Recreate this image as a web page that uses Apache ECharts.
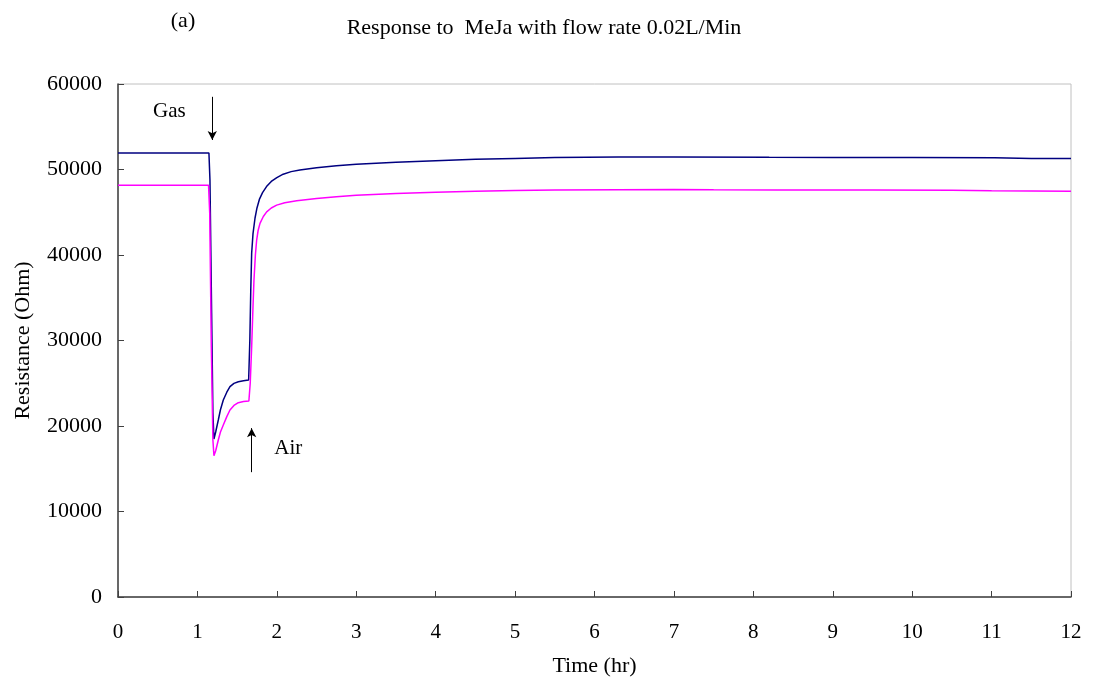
<!DOCTYPE html>
<html>
<head>
<meta charset="utf-8">
<script src="https://cdn.jsdelivr.net/npm/echarts@6/dist/echarts.min.js"></script>
<style>
  html, body { margin: 0; padding: 0; background: #fff; }
  #chart { width: 1093px; height: 684px; }
</style>
</head>
<body>
<div id="chart"></div>
<script>
// Sensor resistance over time, two sensors exposed to MeJa then air
const timeBlue = [0, 0.5, 1.0, 1.145, 1.158, 1.179, 1.195, 1.208, 1.23, 1.263, 1.29, 1.326, 1.37, 1.41, 1.46, 1.515, 1.58, 1.645,
  1.66, 1.672, 1.683, 1.70, 1.725, 1.75, 1.78, 1.82, 1.87, 1.93, 2.0, 2.08, 2.18, 2.29, 2.5, 2.75, 3.0, 3.5,
  4.0, 4.5, 5.0, 5.5, 6.3, 7.0, 8.2, 9.0, 10.0, 11.04, 11.5, 12.0];
const resBlue = [51930, 51930, 51930, 51930, 48750, 33200, 21530, 18480, 19300, 20700, 21900, 23040, 23950, 24600, 24980, 25180, 25300, 25380,
  30000, 36000, 40200, 42500, 44300, 45500, 46500, 47300, 48000, 48600, 49050, 49450, 49750, 49950, 50200, 50430, 50600, 50840,
  51030, 51190, 51300, 51390, 51450, 51470, 51420, 51400, 51400, 51380, 51300, 51280];

const timePink = [0, 0.5, 1.0, 1.14, 1.155, 1.175, 1.195, 1.208, 1.23, 1.263, 1.29, 1.326, 1.37, 1.41, 1.46, 1.515, 1.58, 1.648,
  1.665, 1.683, 1.70, 1.712, 1.73, 1.746, 1.765, 1.788, 1.83, 1.872, 1.93, 1.998, 2.1, 2.25, 2.5, 2.75, 3.0, 3.5,
  4.0, 4.5, 5.0, 5.5, 6.3, 7.0, 7.5, 8.3, 9.5, 10.5, 11.0, 12.0];
const resPink = [48170, 48170, 48170, 48170, 44860, 29300, 18370, 16530, 17100, 18360, 19300, 20120, 21100, 21870, 22400, 22730, 22860, 22920,
  25000, 29250, 34000, 37050, 40000, 41750, 42900, 43700, 44500, 45050, 45500, 45830, 46120, 46350, 46620, 46820, 46990, 47200,
  47350, 47470, 47550, 47600, 47630, 47670, 47620, 47600, 47600, 47580, 47520, 47450];

const xTicks = [0, 12, 1];          // min, max, interval (hr)
const yTicks = [0, 60000, 10000];   // min, max, interval (Ohm)

// Event markers: [time, fromValue, toValue]
const gasArrow = [1.187, 58500, 53450];
const airArrow = [1.683, 14600, 19750];
const gasLabel = [0.646, 56800];
const airLabel = [2.144, 17390];

const FONT = "'Liberation Serif', 'Times New Roman', serif";

function pairs(xs, ys) { return xs.map((x, i) => [x, ys[i]]); }

const chart = echarts.init(document.getElementById('chart'), null, { renderer: 'canvas' });

chart.setOption({
  animation: false,
  backgroundColor: '#ffffff',
  textStyle: { fontFamily: FONT, color: '#000' },
  graphic: [
    { type: 'text', x: 183, y: 21, style: { text: '(a)', font: '22px ' + FONT, fill: '#000', textAlign: 'center', textVerticalAlign: 'middle' } },
    { type: 'text', x: 544, y: 28, style: { text: 'Response to  MeJa with flow rate 0.02L/Min', font: '22px ' + FONT, fill: '#000', textAlign: 'center', textVerticalAlign: 'middle' } }
  ],
  grid: {
    left: 118, right: 22, top: 84, bottom: 87,
    show: true, borderColor: '#c0c0c0', borderWidth: 1
  },
  xAxis: {
    type: 'value',
    min: xTicks[0], max: xTicks[1], interval: xTicks[2],
    name: 'Time (hr)',
    nameLocation: 'middle', nameGap: 58,
    nameTextStyle: { fontFamily: FONT, fontSize: 22, color: '#000' },
    axisLine: { show: true, lineStyle: { color: '#404040', width: 1.5 } },
    axisTick: { show: true, inside: true, length: 6, lineStyle: { color: '#404040' } },
    axisLabel: { fontFamily: FONT, fontSize: 21, color: '#000', margin: 25 },
    splitLine: { show: false }
  },
  yAxis: {
    type: 'value',
    min: yTicks[0], max: yTicks[1], interval: yTicks[2],
    name: 'Resistance (Ohm)',
    nameLocation: 'middle', nameGap: 84,
    nameTextStyle: { fontFamily: FONT, fontSize: 22, color: '#000' },
    axisLine: { show: true, lineStyle: { color: '#404040', width: 1.5 } },
    axisTick: { show: true, inside: true, length: 6, lineStyle: { color: '#404040' } },
    axisLabel: { fontFamily: FONT, fontSize: 22, color: '#000', margin: 16, formatter: v => String(v) },
    splitLine: { show: false }
  },
  series: [
    {
      name: 'Sensor 1', type: 'line', showSymbol: false, smooth: false,
      lineStyle: { color: '#000080', width: 1.5 },
      itemStyle: { color: '#000080' },
      data: pairs(timeBlue, resBlue),
      markLine: {
        silent: true, symbol: ['none', 'arrow'], symbolSize: [7, 9],
        lineStyle: { color: '#000', width: 1, type: 'solid' },
        label: { show: false },
        data: [
          [{ coord: [gasArrow[0], gasArrow[1]] }, { coord: [gasArrow[0], gasArrow[2]] }],
          [{ coord: [airArrow[0], airArrow[1]] }, { coord: [airArrow[0], airArrow[2]] }]
        ]
      },
      markPoint: {
        silent: true, symbol: 'circle', symbolSize: 0,
        label: { show: true, position: 'inside', fontFamily: FONT, fontSize: 21, color: '#000', formatter: p => p.name },
        data: [
          { name: 'Gas', coord: gasLabel },
          { name: 'Air', coord: airLabel }
        ]
      }
    },
    {
      name: 'Sensor 2', type: 'line', showSymbol: false, smooth: false,
      lineStyle: { color: '#ff00ff', width: 1.5 },
      itemStyle: { color: '#ff00ff' },
      data: pairs(timePink, resPink)
    }
  ]
});
</script>
</body>
</html>
